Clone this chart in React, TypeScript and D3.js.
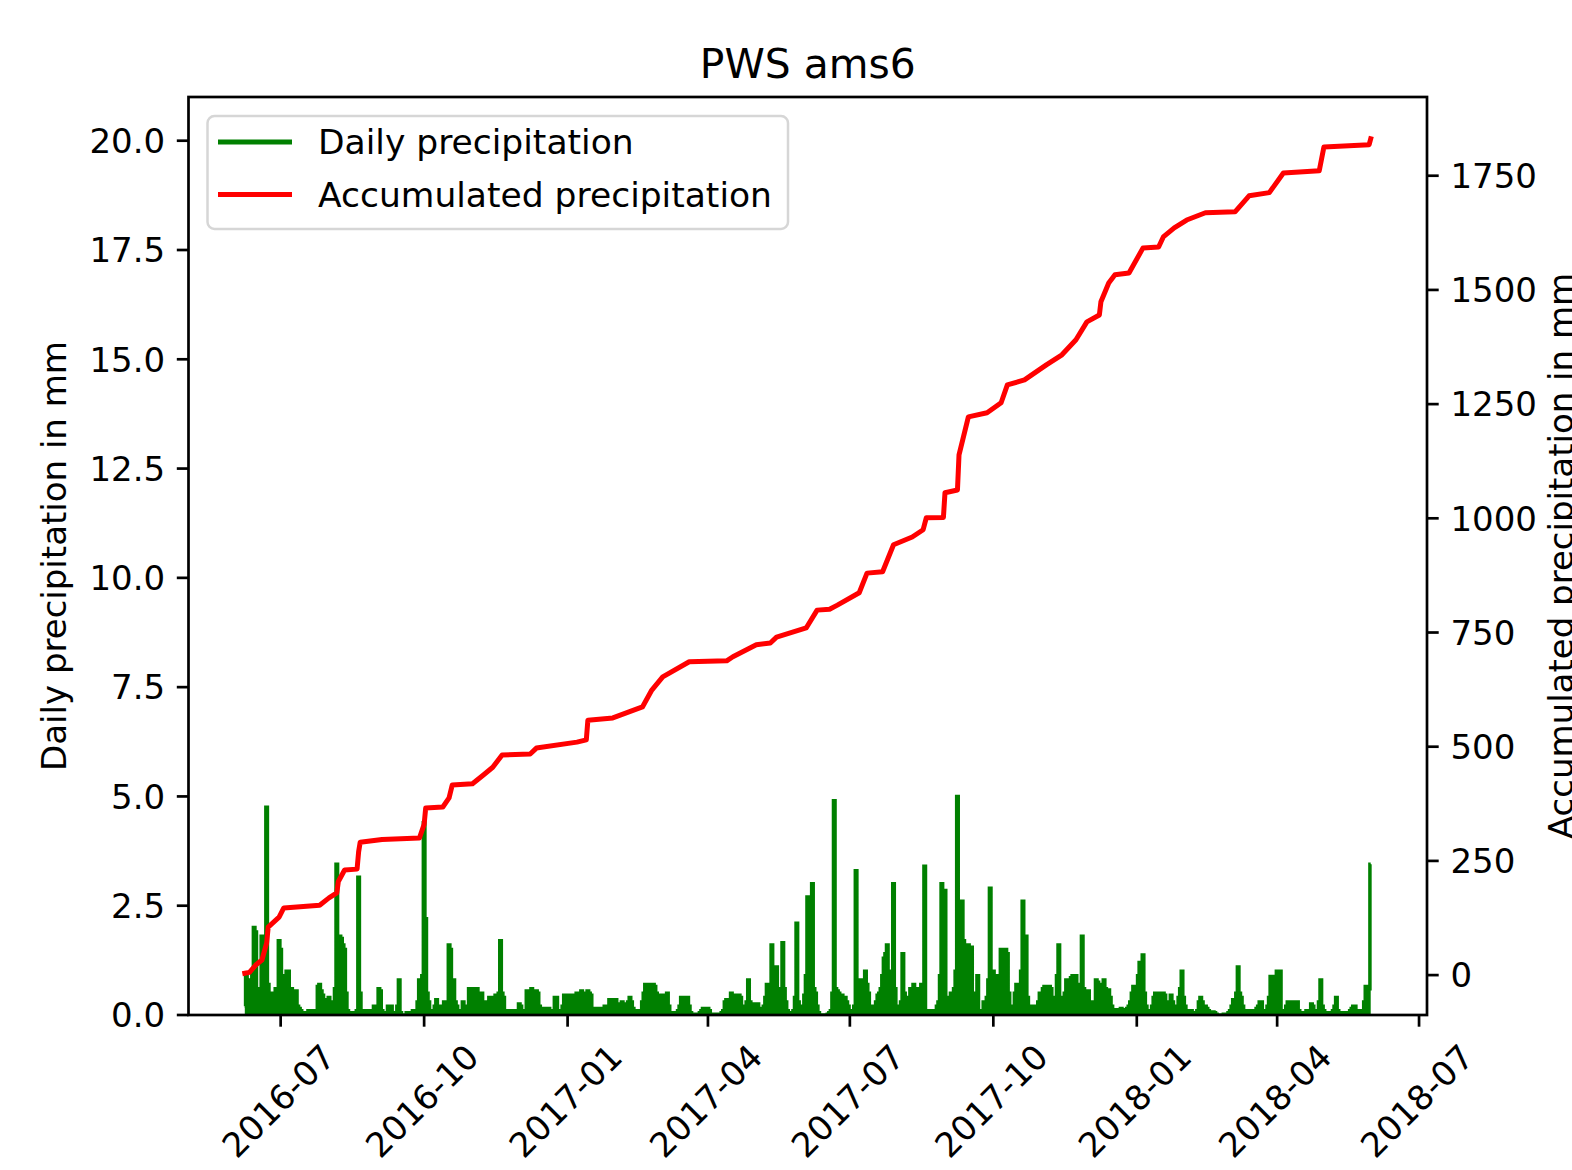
import React from 'react';
import * as d3 from 'd3';

const W = 1572;
const H = 1170;
const M = { left: 188.5, right: 1427, top: 97, bottom: 1015 };
const FONT = '"DejaVu Sans", Verdana, sans-serif';
const FS = 34;
const LEGEND_FS = 34.5;

const TITLE = 'PWS ams6';
const Y_LEFT_LABEL = 'Daily precipitation in mm';
const Y_RIGHT_LABEL = 'Accumulated precipitation in mm';
const SERIES_NAMES = ['Daily precipitation', 'Accumulated precipitation'];
const SERIES_COLORS = ['#008000', '#ff0000'];

// first day of the daily series
const START_DATE = '2016-06-08';

// daily precipitation (mm), 2016-06-08 .. 2016-12-31
const daily2016 = [
  // Jun 08-30
  0.2, 0.9, 0.6, 0.8, 0.3, 1.0, 2.0, 1.9, 0.5, 0.4, 0.6, 1.8, 0.4, 1.7, 4.75, 0.7, 0.4, 0.5, 0.3, 0.2, 0.6, 0.5, 1.7,
  // Jul
  1.5, 0.6, 0.4, 0.9, 1.0, 1.0, 0.5, 0.6, 0.3, 0.55, 0.55, 0.2, 0.15, 0.1, 0.05, 0, 0, 0.05, 0.1, 0.05, 0.05, 0.1, 0, 0.1, 0.65, 0.7, 0.55, 0.45, 0.35, 0.1, 0.05,
  // Aug
  0.4, 0.3, 0.2, 0.1, 0.6, 3.45, 1.0, 1.8, 1.75, 1.6, 1.5, 0.5, 0.1, 0, 0.05, 0, 0.05, 0, 0.1, 3.15, 0.5, 0.1, 0.05, 0.1, 0.05, 0.05, 0.1, 0, 0.1, 0.2, 0.1,
  // Sep
  0.1, 0.6, 0.55, 0.1, 0, 0.05, 0, 0.2, 0.1, 0.2, 0, 0.05, 0, 0.2, 0.8, 0.05, 0, 0, 0, 0.05, 0, 0, 0.05, 0.1, 0.05, 0.1, 0.3, 0.8, 0.2, 0.9,
  // Oct
  4.4, 2.2, 0.5, 0.3, 0.1, 0.05, 0.1, 0.2, 0.35, 0.1, 0.05, 0.2, 0.1, 0.3, 0.3, 0.2, 1.6, 1.5, 0.8, 0.8, 0.3, 0.2, 0.1, 0.1, 0.05, 0.3, 0.1, 0.05, 0.2, 0.6, 0.55,
  // Nov
  0.6, 0.55, 0.5, 0.6, 0.5, 0.45, 0.5, 0.3, 0.05, 0, 0.3, 0.4, 0.35, 0.4, 0.4, 0.45, 0.4, 0.5, 1.7, 0.5, 0.4, 0.1, 0.1, 0.05, 0.1, 0.1, 0.1, 0.05, 0.1, 0.1,
  // Dec
  0.25, 0.2, 0.1, 0.05, 0.1, 0.55, 0.55, 0.5, 0.6, 0.55, 0.5, 0.55, 0.5, 0.2, 0.15, 0.15, 0.1, 0.15, 0.1, 0.15, 0.1, 0.05, 0.1, 0.4, 0.4, 0.1, 0.05, 0.1, 0.2, 0.45, 0.45,
];

// daily precipitation (mm), 2017-01-01 .. 2017-12-31
const daily2017 = [
  // Jan
  0.45, 0.4, 0.45, 0.3, 0.45, 0.4, 0.5, 0.45, 0.5, 0.55, 0.5, 0.4, 0.5, 0.55, 0.5, 0.45, 0.15, 0.1, 0.15, 0.1, 0.05, 0.15, 0.1, 0.15, 0.2, 0.1, 0.15, 0.35, 0.3, 0.35, 0.3,
  // Feb
  0.35, 0.25, 0.2, 0.25, 0.3, 0.25, 0.2, 0.25, 0.3, 0.4, 0.3, 0.15, 0.1, 0.1, 0.05, 0.1, 0.1, 0.3, 0.5, 0.7, 0.65, 0.7, 0.7, 0.6, 0.7, 0.65, 0.5, 0.45,
  // Mar
  0.45, 0.4, 0.45, 0.3, 0.35, 0.5, 0.2, 0.05, 0.05, 0, 0.05, 0.05, 0.1, 0.2, 0.4, 0.35, 0.4, 0.3, 0.4, 0.2, 0.05, 0, 0, 0.02, 0, 0, 0.05, 0.1, 0.15, 0.15, 0.1,
  // Apr
  0.15, 0.1, 0.02, 0, 0.02, 0, 0.02, 0, 0.02, 0.05, 0.1, 0.3, 0.35, 0.3, 0.35, 0.5, 0.3, 0.2, 0.45, 0.4, 0.45, 0.4, 0.2, 0.1, 0.1, 0.3, 0.8, 0.3, 0.1, 0.25,
  // May
  0.25, 0.2, 0.25, 0.15, 0.05, 0.1, 0.2, 0.4, 0.7, 0.3, 0.65, 1.6, 0.5, 0.6, 1.1, 0.6, 0.2, 0.5, 1.65, 0.6, 0.3, 0.1, 0.05, 0.05, 0.05, 0.1, 0.4, 2.1, 0.3, 0.1, 0.15,
  // Jun
  0.2, 0.45, 0.9, 2.7, 0.8, 0.6, 3.0, 0.6, 0.5, 0.2, 0.05, 0, 0, 0, 0, 0, 0.02, 0.05, 0.1, 0.5, 4.9, 0.6, 0.55, 0.5, 0.45, 0.45, 0.4, 0.4, 0.3, 0.2,
  // Jul
  0.1, 0.05, 0.05, 0.2, 3.3, 0.6, 0.5, 0.8, 0.5, 0.6, 1.0, 0.7, 0.5, 0.2, 0.05, 0.1, 0.2, 0.3, 0.45, 0.5, 0.6, 0.9, 1.3, 1.4, 1.6, 1.0, 0.8, 0.6, 3.0, 0.6, 0.2,
  // Aug
  0.1, 0.05, 0.3, 1.4, 0.5, 0.3, 0.3, 0.4, 0.6, 0.6, 0.7, 0.5, 0.55, 0.6, 0.5, 0.7, 0.6, 3.4, 0, 0.05, 0.1, 0.05, 0.1, 0.05, 0.1, 0.2, 0.3, 0.9, 3.0, 2.2, 2.85,
  // Sep
  0.4, 0.3, 0.2, 0.5, 0.4, 0.6, 1.0, 5.0, 1.5, 2.4, 2.6, 1.7, 1.6, 1.5, 1.6, 1.0, 1.55, 0.5, 0.2, 0.4, 0.9, 0.1, 0.05, 0.1, 0.3, 0.2, 0.4, 0.8, 2.9, 0.6,
  // Oct
  1.0, 0.5, 0.9, 0.3, 0.6, 1.5, 1.4, 1.0, 1.5, 1.4, 0.5, 0.2, 0.1, 0.2, 0.5, 0.7, 0.3, 0.6, 1.0, 2.6, 1.0, 1.8, 0.4, 0.2, 0.2, 0.15, 0.2, 0.1, 0.2, 0.3, 0.5,
  // Nov
  0.5, 0.6, 0.65, 0.65, 0.6, 0.65, 0.6, 0.3, 0.2, 0.4, 0.9, 1.6, 0.4, 0.2, 0.3, 0.5, 0.8, 0.7, 0.6, 0.85, 0.9, 0.85, 0.9, 0.6, 0.5, 0.7, 1.8, 0.6, 0.55, 0.5,
  // Dec
  0.55, 0.3, 0.2, 0.15, 0.3, 0.8, 0.75, 0.6, 0.5, 0.7, 0.8, 0.6, 0.5, 0.57, 0.4, 0.2, 0.12, 0.1, 0.12, 0.1, 0.12, 0.15, 0.1, 0.12, 0.1, 0.15, 0.2, 0.3, 0.5, 0.65, 0.6,
];

// daily precipitation (mm), 2018-01-01 .. 2018-05-31
const daily2018 = [
  // Jan
  0.6, 0.9, 1.2, 0.5, 1.37, 0.5, 0.2, 0.1, 0.05, 0.1, 0.2, 0.4, 0.5, 0.45, 0.5, 0.5, 0.4, 0.5, 0.45, 0.3, 0.15, 0.3, 0.45, 0.3, 0.2, 0.1, 0.2, 0.4, 0.6, 1.0, 0.4,
  // Feb
  0.2, 0.1, 0.05, 0.05, 0.1, 0.05, 0.02, 0.05, 0.1, 0.3, 0.4, 0.3, 0.2, 0.2, 0.15, 0.1, 0.05, 0.05, 0.07, 0.05, 0.02, 0, 0, 0, 0, 0.02, 0, 0,
  // Mar
  0.05, 0.1, 0.2, 0.35, 0.3, 0.5, 1.1, 0.5, 0.4, 0.2, 0.1, 0.05, 0.05, 0.1, 0.05, 0.1, 0.05, 0.1, 0.15, 0.2, 0.3, 0.3, 0.05, 0.1, 0.05, 0.2, 0.4, 0.88, 0.8, 0.88, 0.7,
  // Apr
  1.0, 0.95, 1.0, 0.1, 0.05, 0.1, 0.2, 0.3, 0.3, 0.25, 0.3, 0.3, 0.25, 0.3, 0.1, 0.05, 0.02, 0.05, 0.05, 0.1, 0.05, 0.1, 0.25, 0.2, 0.05, 0.05, 0.1, 0.3, 0.8, 0.2,
  // May
  0.1, 0.05, 0.02, 0.05, 0.02, 0.05, 0.1, 0.2, 0.4, 0.1, 0.05, 0.02, 0.05, 0.02, 0.05, 0.02, 0.05, 0.1, 0.15, 0.2, 0.2, 0.1, 0.05, 0.05, 0.1, 0.1, 0.3, 0.65, 0.65, 0.6, 3.45,
];

// accumulated precipitation (mm), read at the breakpoints of the curve
const accDates = [
  '2016-06-08', '2016-06-11', '2016-06-15', '2016-06-19', '2016-06-22', '2016-06-23', '2016-06-30', '2016-07-03',
  '2016-07-26', '2016-08-01', '2016-08-06', '2016-08-07', '2016-08-11', '2016-08-19', '2016-08-20', '2016-08-21',
  '2016-09-04', '2016-09-28', '2016-10-01', '2016-10-02', '2016-10-13', '2016-10-17', '2016-10-19', '2016-11-01',
  '2016-11-08', '2016-11-14', '2016-11-20', '2016-12-08', '2016-12-12', '2017-01-07', '2017-01-13', '2017-01-14',
  '2017-01-30', '2017-02-18', '2017-02-24', '2017-03-03', '2017-03-20', '2017-04-13', '2017-04-17', '2017-05-02',
  '2017-05-11', '2017-05-15', '2017-06-03', '2017-06-10', '2017-06-18', '2017-06-23', '2017-07-07', '2017-07-12',
  '2017-07-22', '2017-07-29', '2017-08-10', '2017-08-17', '2017-08-19', '2017-08-30', '2017-08-31', '2017-09-08',
  '2017-09-09', '2017-09-15', '2017-09-27', '2017-10-06', '2017-10-10', '2017-10-21', '2017-11-04', '2017-11-14',
  '2017-11-23', '2017-11-30', '2017-12-08', '2017-12-09', '2017-12-14', '2017-12-18', '2017-12-27', '2018-01-05',
  '2018-01-15', '2018-01-18', '2018-01-25', '2018-02-02', '2018-02-14', '2018-03-05', '2018-03-14', '2018-03-27',
  '2018-04-05', '2018-04-28', '2018-05-01', '2018-05-30', '2018-05-31',
];
const accValues = [
  4, 6, 22, 33, 70, 105, 127, 147,
  153, 169, 180, 205, 230, 232, 270, 291,
  297, 300, 330, 366, 368, 388, 416, 419,
  438, 455, 482, 484, 497, 510, 515, 558,
  563, 587, 624, 653, 686, 688, 697, 723,
  727, 740, 760, 799, 801, 810, 837, 880,
  883, 942, 959, 975, 1001, 1002, 1056, 1062,
  1139, 1222, 1231, 1253, 1292, 1303, 1336, 1358,
  1391, 1430, 1445, 1474, 1515, 1533, 1537, 1592,
  1594, 1616, 1636, 1653, 1669, 1671, 1706, 1713,
  1756, 1761, 1813, 1818, 1831,
];

const leftDomain = [0, 21];
const leftTicks = [0, 2.5, 5, 7.5, 10, 12.5, 15, 17.5, 20];
const rightTicks = [0, 250, 500, 750, 1000, 1250, 1500, 1750];
const xTickDates = [
  '2016-07-01', '2016-10-01', '2017-01-01', '2017-04-01', '2017-07-01',
  '2017-10-01', '2018-01-01', '2018-04-01', '2018-07-01',
];

type Pt = { date: Date; v: number };

export default function App() {
  const parse = d3.utcParse('%Y-%m-%d');
  const start = parse(START_DATE) as Date;
  const dailyValues = [...daily2016, ...daily2017, ...daily2018];
  const daily: Pt[] = dailyValues.map((v, i) => ({ date: d3.utcDay.offset(start, i), v }));
  const acc: Pt[] = accDates.map((d, i) => ({ date: parse(d) as Date, v: accValues[i] }));

  const ext = d3.extent(daily, (d) => +d.date) as [number, number];
  const span = ext[1] - ext[0];
  const x = d3
    .scaleUtc()
    .domain([new Date(ext[0] - span * 0.05), new Date(ext[1] + span * 0.05)])
    .range([M.left, M.right]);

  const yL = d3.scaleLinear().domain(leftDomain).range([M.bottom, M.top]);
  const aExt = d3.extent(accValues) as [number, number];
  const aSpan = aExt[1] - aExt[0];
  const yR = d3
    .scaleLinear()
    .domain([aExt[0] - aSpan * 0.05, aExt[1] + aSpan * 0.05])
    .range([M.bottom, M.top]);

  const areaDaily = d3
    .area<Pt>()
    .curve(d3.curveStep)
    .x((d) => x(d.date))
    .y0(yL(0))
    .y1((d) => yL(d.v));
  const lineDaily = d3
    .line<Pt>()
    .curve(d3.curveStep)
    .x((d) => x(d.date))
    .y((d) => yL(d.v));
  const lineAcc = d3
    .line<Pt>()
    .x((d) => x(d.date))
    .y((d) => yR(d.v));

  const fmt = d3.utcFormat('%Y-%m');
  const tickLen = 11.7;
  const pad = 11.7;
  const spineW = 2.7;
  const lineW = 5;

  const legend = { x: 207.5, y: 116, w: 580.5, h: 113 };

  return (
    <svg
      width={W}
      height={H}
      viewBox={`0 0 ${W} ${H}`}
      style={{ position: 'absolute', left: 0, top: 0, background: '#fff' }}
      fontFamily={FONT}
    >
      <rect x={0} y={0} width={W} height={H} fill="#fff" />
      <defs>
        <clipPath id="plotClip">
          <rect x={M.left} y={M.top} width={M.right - M.left} height={M.bottom - M.top} />
        </clipPath>
      </defs>

      {/* title */}
      <text x={(M.left + M.right) / 2} y={78} textAnchor="middle" fontSize={40.8} fill="#000">
        {TITLE}
      </text>

      {/* data */}
      <g clipPath="url(#plotClip)">
        <path d={areaDaily(daily) || ''} fill={SERIES_COLORS[0]} stroke="none" />
        <path d={lineDaily(daily) || ''} fill="none" stroke={SERIES_COLORS[0]} strokeWidth={3.5} strokeLinejoin="miter" />
        <path d={lineAcc(acc) || ''} fill="none" stroke={SERIES_COLORS[1]} strokeWidth={lineW} strokeLinejoin="round" strokeLinecap="square" />
      </g>

      {/* spines */}
      <rect
        x={M.left}
        y={M.top}
        width={M.right - M.left}
        height={M.bottom - M.top}
        fill="none"
        stroke="#000"
        strokeWidth={spineW}
      />

      {/* left axis */}
      {leftTicks.map((t) => (
        <g key={`l${t}`}>
          <line x1={M.left - tickLen} x2={M.left} y1={yL(t)} y2={yL(t)} stroke="#000" strokeWidth={spineW} />
          <text x={M.left - tickLen - pad} y={yL(t)} dy="0.36em" textAnchor="end" fontSize={FS} fill="#000">
            {t.toFixed(1)}
          </text>
        </g>
      ))}

      {/* right axis */}
      {rightTicks.map((t) => (
        <g key={`r${t}`}>
          <line x1={M.right} x2={M.right + tickLen} y1={yR(t)} y2={yR(t)} stroke="#000" strokeWidth={spineW} />
          <text x={M.right + tickLen + pad} y={yR(t)} dy="0.36em" textAnchor="start" fontSize={FS} fill="#000">
            {t}
          </text>
        </g>
      ))}

      {/* bottom axis */}
      {xTickDates.map((s) => {
        const d = parse(s) as Date;
        const px = x(d);
        return (
          <g key={s}>
            <line x1={px} x2={px} y1={M.bottom} y2={M.bottom + tickLen} stroke="#000" strokeWidth={spineW} />
            <text
              transform={`translate(${px - 2},${1101}) rotate(-45)`}
              textAnchor="middle"
              dy="0.35em"
              fontSize={FS}
              fill="#000"
            >
              {fmt(d)}
            </text>
          </g>
        );
      })}

      {/* axis labels */}
      <text
        transform={`translate(66,${(M.top + M.bottom) / 2}) rotate(-90)`}
        textAnchor="middle"
        fontSize={FS}
        fill="#000"
      >
        {Y_LEFT_LABEL}
      </text>
      <text
        transform={`translate(1573,${(M.top + M.bottom) / 2}) rotate(-90)`}
        textAnchor="middle"
        fontSize={FS}
        fill="#000"
      >
        {Y_RIGHT_LABEL}
      </text>

      {/* legend */}
      <rect
        x={legend.x}
        y={legend.y}
        width={legend.w}
        height={legend.h}
        rx={7}
        ry={7}
        fill="#fff"
        fillOpacity={0.8}
        stroke="#d6d6d6"
        strokeWidth={2.5}
      />
      {SERIES_NAMES.map((name, i) => {
        const cy = 142 + i * 52.5;
        return (
          <g key={name}>
            <line x1={218} x2={292} y1={cy} y2={cy} stroke={SERIES_COLORS[i]} strokeWidth={lineW} />
            <text x={318} y={cy + 12} fontSize={LEGEND_FS} fill="#000">
              {name}
            </text>
          </g>
        );
      })}
    </svg>
  );
}
